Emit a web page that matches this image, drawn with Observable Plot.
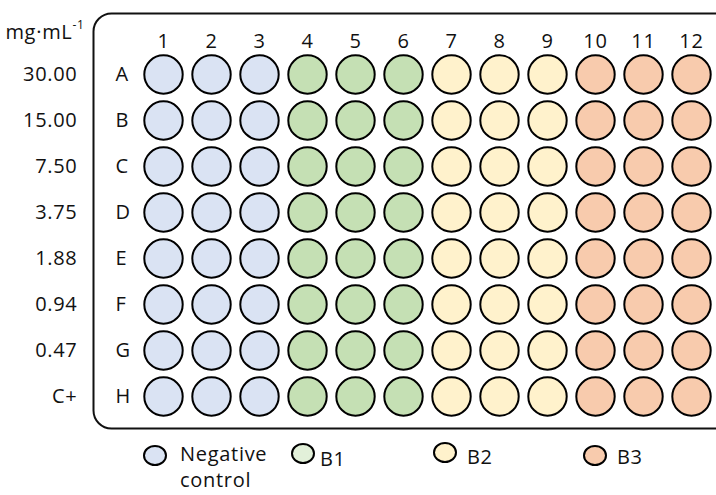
<!DOCTYPE html>
<html>
<head>
<meta charset="utf-8">
<script src="https://cdn.jsdelivr.net/npm/d3@7"></script>
<script src="https://cdn.jsdelivr.net/npm/@observablehq/plot@0.6"></script>
<style>
  html, body { margin: 0; padding: 0; background: #fff; }
  #wrap { position: relative; width: 716px; height: 495px; overflow: hidden; font-family: "Open Sans", sans-serif; color: #111; }
  #wrap svg text { letter-spacing: 0.7px; }
  .lg-dot { position: absolute; box-sizing: border-box; border: 2px solid #000; border-radius: 50%; }
  .lg-txt { position: absolute; font-size: 20px; line-height: 26px; letter-spacing: 0.7px; color: #111; white-space: nowrap; }
</style>
</head>
<body>
<div id="wrap"></div>
<script>
// ---- data ----
const rows = ["A", "B", "C", "D", "E", "F", "G", "H"];
const cols = [1, 2, 3, 4, 5, 6, 7, 8, 9, 10, 11, 12];
const concentrations = ["30.00", "15.00", "7.50", "3.75", "1.88", "0.94", "0.47", "C+"];
const unitLabel = "mg·mL";
const unitExponent = "-1";
const groups = ["Negative control", "B1", "B2", "B3"];
const groupOfColumn = ["Negative control", "Negative control", "Negative control",
                       "B1", "B1", "B1", "B2", "B2", "B2", "B3", "B3", "B3"];
const legendLabels = ["Negative\ncontrol", "B1", "B2", "B3"];

// ---- styles ----
const wellColors = ["#dae3f3", "#c5e0b4", "#fff2cc", "#f8cbad"];
const legendColors = ["#dae3f3", "#e2f0d9", "#fff2cc", "#f8cbad"];

const wells = rows.flatMap(r => cols.map((c, i) => ({row: r, col: c, group: groupOfColumn[i]})));

const chart = Plot.plot({
  width: 716,
  height: 432,
  marginLeft: 93,
  marginTop: 13,
  marginRight: -30,
  marginBottom: 4,
  x: {type: "point", domain: cols, range: [163, 691], padding: 0, axis: null},
  y: {type: "point", domain: rows, range: [73, 396], padding: 0, axis: null},
  color: {domain: groups, range: wellColors},
  style: {fontFamily: "'Open Sans', sans-serif", fontSize: "20px", color: "#111", background: "transparent"},
  marks: [
    Plot.frame({rx: 18, stroke: "#111", strokeWidth: 2}),
    Plot.dot(wells, {x: "col", y: "row", r: 19.2, fill: "group", stroke: "#000", strokeWidth: 2}),
    Plot.text(cols, {x: d => d, frameAnchor: "top", lineAnchor: "middle", dy: 28, fontSize: 20}),
    Plot.text(rows, {y: d => d, frameAnchor: "left", lineAnchor: "middle", dx: 22, fontSize: 20}),
    Plot.text(concentrations, {y: (d, i) => rows[i], frameAnchor: "left", lineAnchor: "middle", textAnchor: "end", dx: -16, fontSize: 20}),
    Plot.text([unitLabel], {frameAnchor: "top-left", lineAnchor: "middle", textAnchor: "end", dx: -21, dy: 19, fontSize: 20}),
    Plot.text([unitExponent], {frameAnchor: "top-left", lineAnchor: "middle", textAnchor: "start", dx: -21, dy: 12, fontSize: 12})
  ]
});

const wrap = document.getElementById("wrap");
wrap.appendChild(chart);

// ---- legend (HTML below the SVG) ----
const legendLayout = [
  {cx: 155, cy: 455, tx: 180, base: 462},
  {cx: 303, cy: 453, tx: 320, base: 467},
  {cx: 445, cy: 452, tx: 467, base: 465},
  {cx: 595, cy: 455, tx: 617, base: 465}
];
legendLabels.forEach((lab, i) => {
  const L = legendLayout[i];
  const dot = document.createElement("div");
  dot.className = "lg-dot";
  dot.style.width = "24px";
  dot.style.height = "21px";
  dot.style.left = (L.cx - 12) + "px";
  dot.style.top = (L.cy - 10.5) + "px";
  dot.style.background = legendColors[i];
  wrap.appendChild(dot);
  const t = document.createElement("div");
  t.className = "lg-txt";
  t.style.left = L.tx + "px";
  t.style.top = (L.base - 21) + "px";
  t.innerHTML = lab.split("\n").join("<br>");
  wrap.appendChild(t);
});
</script>
</body>
</html>
